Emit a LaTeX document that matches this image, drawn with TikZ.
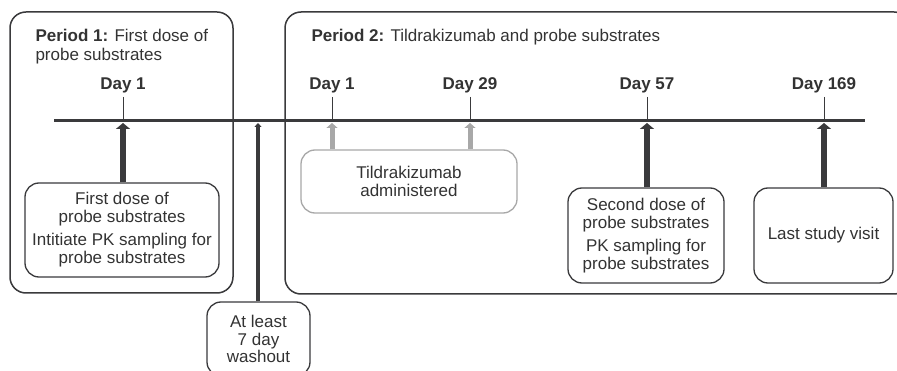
\documentclass[tikz,border=0pt]{standalone}
\usepackage{fontspec}
\setmainfont{Liberation Sans}
\usetikzlibrary{arrows.meta}
\definecolor{dk}{HTML}{3A3A3C}
\definecolor{lg}{HTML}{A8A8A8}
\definecolor{tx}{HTML}{333333}
\begin{document}
\begin{tikzpicture}[x=1pt,y=-1pt,
  every node/.style={text=tx, font=\fontsize{17}{18}\selectfont},
  period/.style={draw=dk, line width=1.5pt, rounded corners=16pt, inner sep=0pt},
  ebox/.style={draw=dk, line width=1.3pt, rounded corners=14pt, align=center, inner sep=0pt},
  gbox/.style={ebox, draw=lg},
  daylbl/.style={font=\fontsize{17}{18}\selectfont\bfseries},
  tickline/.style={draw=dk, line width=1pt},
  bigarrow/.style={draw=dk, line width=6.5pt, -{Triangle[width=14pt,length=6pt]}},
  midarrow/.style={draw=dk, line width=3.5pt, -{Triangle[width=7pt,length=4pt]}},
  grayarrow/.style={draw=lg, line width=5pt, -{Triangle[width=11pt,length=5pt]}},
  timeline/.style={draw=dk, line width=3pt}
]
\clip (0,0) rectangle (897,371);
\fill[white] (0,0) rectangle (897,371);

% period boxes
\node[period, minimum width=223pt, minimum height=281pt] (p1) at (121.5,152.5) {};
\node[period, minimum width=625pt, minimum height=282pt] (p2) at (597.5,153) {};

\node[anchor=base west, align=left, font=\fontsize{17}{19}\selectfont] (p1t) at (32,61)
  {\textbf{Period 1:} First dose of\\probe substrates};
\node[anchor=base west, align=left] (p2t) at (308,42)
  {\textbf{Period 2:} Tildrakizumab and probe substrates};

% timeline
\coordinate (ts) at (54,121);
\coordinate (te) at (865,121);
\draw[timeline] (ts) -- (te);

% day labels and ticks
\node[daylbl] (d1) at (123,85) {Day 1};
\node[daylbl] (e1) at (332,85) {Day 1};
\node[daylbl] (e29) at (470,85) {Day 29};
\node[daylbl] (e57) at (647,85) {Day 57};
\node[daylbl] (e169) at (824,85) {Day 169};
\foreach \n/\x in {d1/123,e1/332,e29/470,e57/647,e169/824}{
  \coordinate (t\n) at (\x,120);
  \coordinate (s\n) at (\x,97);
  \draw[tickline] (s\n) -- (t\n);
  \coordinate (a\n) at (\x,123);
}

% event boxes
\node[ebox, minimum width=194pt, minimum height=94pt] (b1) at (122,230)
  {First dose of\\probe substrates\\[5pt]Intitiate PK sampling for\\probe substrates};
\node[gbox, minimum width=216pt, minimum height=63pt] (b2) at (409,181.5)
  {Tildrakizumab\\administered};
\node[ebox, minimum width=156pt, minimum height=95pt] (b3) at (646,235.5)
  {Second dose of\\probe substrates\\[5pt]PK sampling for\\probe substrates};
\node[ebox, minimum width=139pt, minimum height=95pt] (b4) at (823.5,235.5)
  {Last study visit};
\node[ebox, minimum width=103pt, minimum height=74pt, font=\fontsize{17}{17.5}\selectfont] (bw) at (258.5,339)
  {At least\\7 day\\washout};

% arrows
\coordinate (aw) at (258,123);
\draw[bigarrow] (b1.north -| ad1) -- (ad1);
\draw[grayarrow] (b2.north -| ae1) -- (ae1);
\draw[grayarrow] (b2.north -| ae29) -- (ae29);
\draw[bigarrow] (b3.north -| ae57) -- (ae57);
\draw[bigarrow] (b4.north -| ae169) -- (ae169);
\draw[midarrow] (bw.north -| aw) -- (aw);
\end{tikzpicture}
\end{document}
